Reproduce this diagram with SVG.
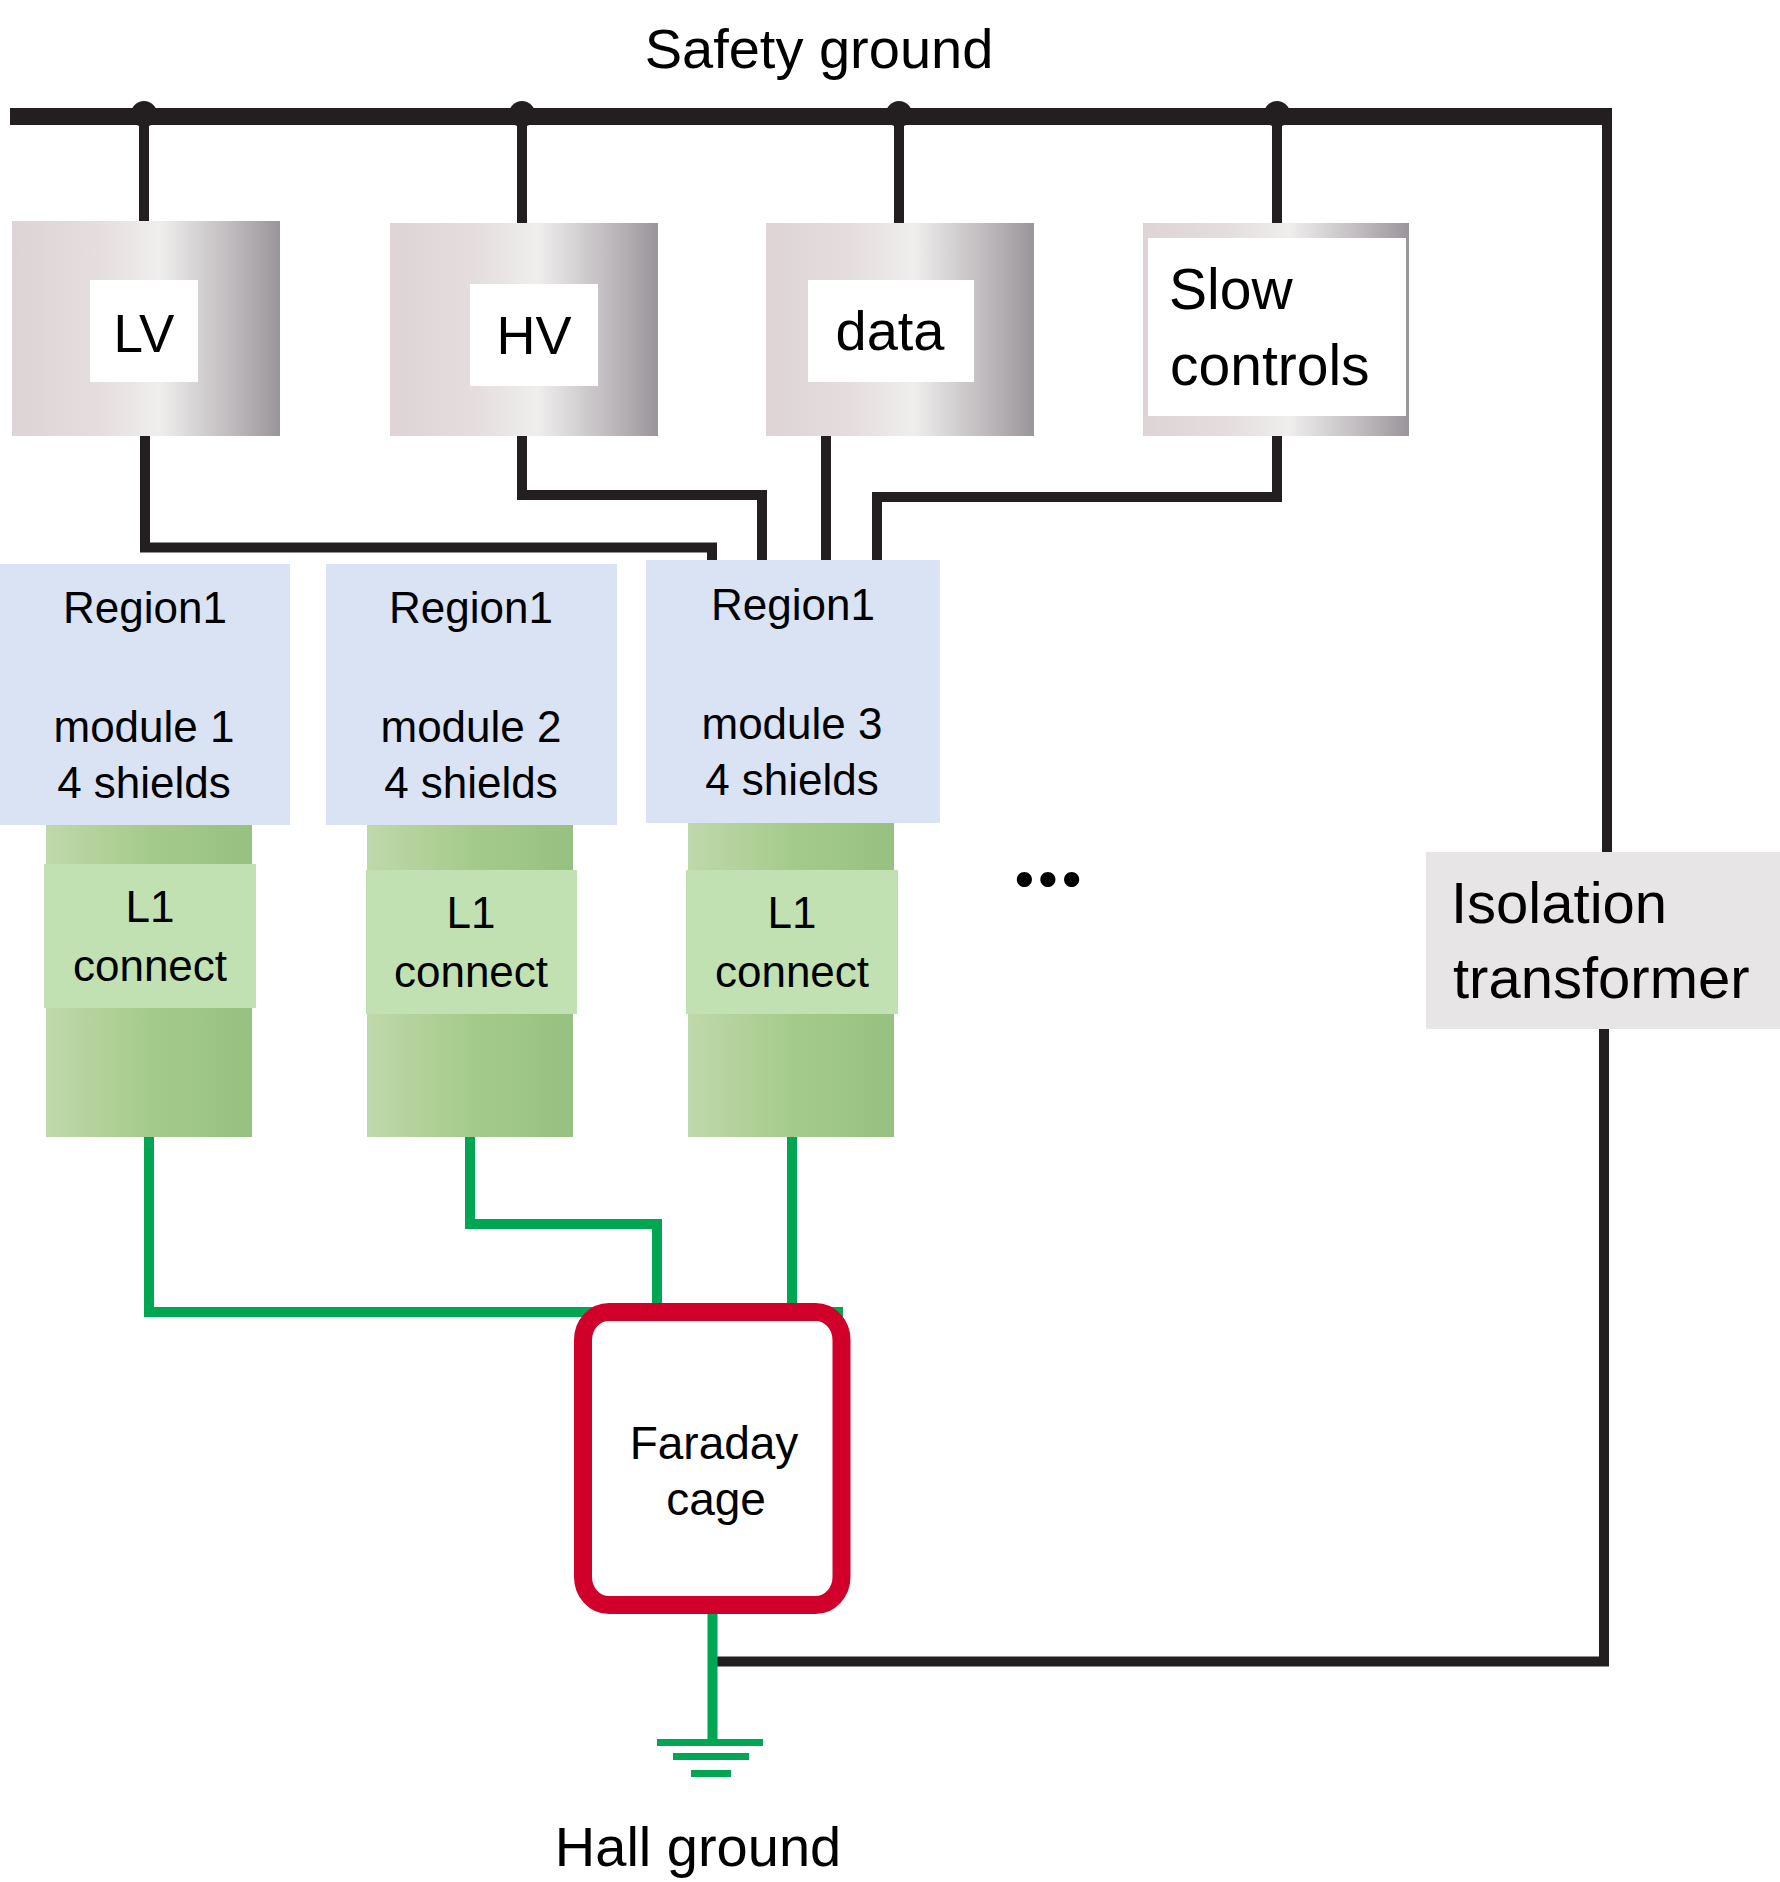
<svg xmlns="http://www.w3.org/2000/svg" width="1780" height="1882" viewBox="0 0 1780 1882">
<style>
text{font-family:"Liberation Sans",Arial,sans-serif;fill:#000}
.big{font-size:56px}
.mid{font-size:44px}
.c{text-anchor:middle}
.blk{fill:none;stroke:#231f20;stroke-width:10}
.grn{fill:none;stroke:#00a651;stroke-width:10}
.region{fill:#dae3f3}
.col{fill:url(#gGreen)}
.lab{fill:#c2e1b2}
.box{fill:url(#gGray)}
.white{fill:#fff}
</style>
<defs>
<linearGradient id="gGray" x1="0" y1="0" x2="1" y2="0">
<stop offset="0" stop-color="#ded4d5"/>
<stop offset="0.3" stop-color="#e4dcdd"/>
<stop offset="0.55" stop-color="#efeeed"/>
<stop offset="0.8" stop-color="#c2bec1"/>
<stop offset="1" stop-color="#9a959a"/>
</linearGradient>
<linearGradient id="gGreen" x1="0" y1="0" x2="1" y2="0">
<stop offset="0" stop-color="#c0d8aa"/>
<stop offset="0.5" stop-color="#a5cb8c"/>
<stop offset="1" stop-color="#97c180"/>
</linearGradient>
</defs>
<rect width="1780" height="1882" fill="#fff"/>

<g id="connectors">
<path class="blk" d="M144 116V221M522 116V223M899 116V223M1277 116V223"/>
<path class="blk" d="M1607 116V852M1604 1029V1661.5H713"/>
<path class="blk" d="M145 436V547.5H712V560M522 436V495H762V560M826 436V560M1277 436V497H877V560"/>
<path class="grn" d="M149 1137V1312H843M470 1137V1224H657V1312M792 1137V1312M712.5 1605V1742"/>
<rect x="10" y="108" width="1602" height="17" fill="#231f20"/>
<circle cx="144" cy="114" r="13" fill="#231f20"/>
<circle cx="522" cy="114" r="13" fill="#231f20"/>
<circle cx="899" cy="114" r="13" fill="#231f20"/>
<circle cx="1277" cy="114" r="13" fill="#231f20"/>
</g>

<text id="safety-ground" class="big c" x="819" y="68">Safety ground</text>

<g id="lv">
<rect class="box" x="12" y="221" width="268" height="215"/>
<rect class="white" x="90" y="280" width="108" height="102"/>
<text class="c" x="144" y="352" font-size="53">LV</text>
</g>
<g id="hv">
<rect class="box" x="390" y="223" width="268" height="213"/>
<rect class="white" x="470" y="284" width="128" height="102"/>
<text class="c" x="534" y="354" font-size="54">HV</text>
</g>
<g id="data">
<rect class="box" x="766" y="223" width="268" height="213"/>
<rect class="white" x="808" y="280" width="166" height="102"/>
<text class="c" x="890" y="350" font-size="56">data</text>
</g>
<g id="slow-controls">
<rect class="box" x="1143" y="223" width="266" height="213"/>
<rect class="white" x="1148" y="238" width="258" height="178"/>
<text x="1169" y="309" font-size="57">Slow</text>
<text x="1170" y="385" font-size="57">controls</text>
</g>

<g id="module1">
<rect class="region" x="0" y="564" width="290" height="261"/>
<text class="mid c" x="145" y="623">Region1</text>
<text class="mid c" x="144" y="742">module 1</text>
<text class="mid c" x="144" y="798">4 shields</text>
</g>
<g id="module2">
<rect class="region" x="326" y="564" width="291" height="261"/>
<text class="mid c" x="471" y="623">Region1</text>
<text class="mid c" x="471" y="742">module 2</text>
<text class="mid c" x="471" y="798">4 shields</text>
</g>
<g id="module3">
<rect class="region" x="646" y="560" width="294" height="263"/>
<text class="mid c" x="793" y="620">Region1</text>
<text class="mid c" x="792" y="739">module 3</text>
<text class="mid c" x="792" y="795">4 shields</text>
</g>

<g id="l1-connect-1">
<rect class="col" x="46" y="825" width="206" height="312"/>
<rect class="lab" x="44" y="864" width="212" height="144"/>
<text class="mid c" x="150" y="922">L1</text>
<text class="mid c" x="150" y="981">connect</text>
</g>
<g id="l1-connect-2">
<rect class="col" x="367" y="825" width="206" height="312"/>
<rect class="lab" x="366" y="870" width="211" height="144"/>
<text class="mid c" x="471" y="928">L1</text>
<text class="mid c" x="471" y="987">connect</text>
</g>
<g id="l1-connect-3">
<rect class="col" x="688" y="823" width="206" height="314"/>
<rect class="lab" x="686" y="870" width="212" height="144"/>
<text class="mid c" x="792" y="928">L1</text>
<text class="mid c" x="792" y="987">connect</text>
</g>

<text id="ellipsis" class="c" x="1048" y="886" font-size="100" font-weight="bold" style="font-family:Lato,'Liberation Sans',sans-serif">...</text>

<g id="isolation-transformer">
<rect x="1426" y="852" width="354" height="177" fill="#e7e5e6"/>
<text x="1451" y="923" font-size="58">Isolation</text>
<text x="1453" y="998" font-size="58">transformer</text>
</g>

<g id="faraday-cage">
<rect x="583" y="1312" width="258.5" height="293" rx="26" ry="28" fill="#fff" stroke="#d0002b" stroke-width="18"/>
<text class="c" x="714" y="1459" font-size="46">Faraday</text>
<text class="c" x="716" y="1515" font-size="46">cage</text>
</g>

<g id="hall-ground">
<rect x="657" y="1739" width="106" height="7" fill="#00a651"/>
<rect x="673" y="1753" width="76" height="7" fill="#00a651"/>
<rect x="691" y="1770" width="40" height="7" fill="#00a651"/>
<text class="big c" x="698" y="1866">Hall ground</text>
</g>
</svg>
